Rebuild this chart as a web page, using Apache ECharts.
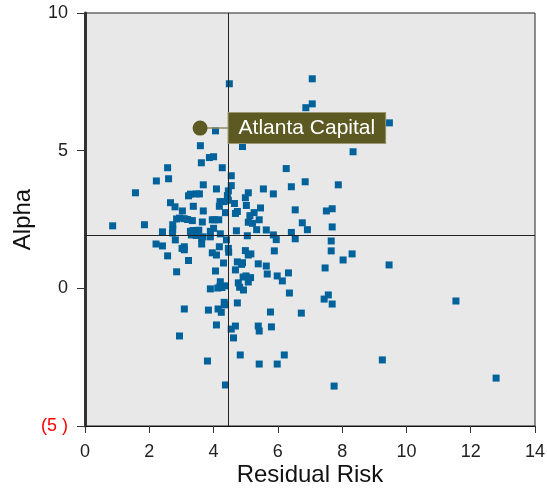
<!DOCTYPE html>
<html>
<head>
<meta charset="utf-8">
<script src="https://cdn.jsdelivr.net/npm/echarts@6/dist/echarts.min.js"></script>
<style>
html,body{margin:0;padding:0;background:#fff;}
#chart{width:547px;height:491px;}
</style>
</head>
<body>
<div id="chart"></div>
<script>
// Residual risk (x) and alpha (y) for each fund
const risk = [
4.49,7.07,7.07,6.87,4.06,3.59,3.87,4.00,4.90,9.47,8.34,
2.57,3.62,4.27,6.26,2.22,2.60,4.55,1.57,3.68,4.09,4.55,5.55,6.42,6.85,5.86,
3.22,3.28,3.46,3.56,4.46,4.43,5.08,4.99,
2.66,2.80,3.37,4.20,4.33,4.46,4.18,4.65,5.02,5.46,
3.03,3.68,4.37,4.68,4.74,5.26,6.54,
2.85,2.94,3.09,3.19,3.34,3.65,3.96,4.03,4.16,5.13,5.08,5.21,5.42,6.76,
0.86,1.85,2.73,2.73,2.41,2.72,
3.28,3.36,3.46,3.54,3.31,3.46,3.37,
3.67,3.90,4.00,3.90,4.21,4.71,5.34,5.64,5.86,5.05,6.42,6.92,5.95,6.54,2.81,3.63,4.40,
2.21,2.41,3.63,3.02,3.09,3.09,4.18,4.46,4.47,2.57,3.96,4.09,4.99,5.08,5.16,5.89,
3.22,4.31,4.74,4.90,4.87,5.39,5.64,2.85,4.06,4.68,5.67,6.33,
4.92,5.01,5.15,5.08,5.98,6.14,4.21,4.20,4.77,4.81,4.93,3.90,4.13,4.26,4.37,6.36,
4.33,4.34,4.74,
7.88,7.51,7.69,7.69,7.66,7.66,8.31,8.03,7.47,9.46,7.57,7.44,7.69,11.54,
3.09,3.84,4.14,4.24,5.77,6.73,4.09,4.55,4.68,5.39,5.42,5.80,2.94,4.62,4.83,6.20,3.81,5.42,5.98,4.37,
9.25,12.79,7.75
];
const alpha = [
7.43,7.61,6.70,6.56,5.72,5.18,4.75,4.78,5.15,6.01,4.96,
4.38,4.56,4.38,4.35,3.90,3.98,4.09,3.47,3.76,3.61,3.73,3.61,3.69,3.87,3.43,
3.36,3.42,3.43,3.43,3.54,3.37,3.47,3.29,
3.11,2.96,2.98,3.15,3.15,3.20,2.98,3.08,3.01,2.92,
2.81,2.81,2.75,2.72,2.79,2.75,2.85,
2.52,2.55,2.53,2.50,2.46,2.41,2.49,2.49,2.49,2.64,2.40,2.36,2.49,2.38,
2.27,2.31,2.31,2.13,2.05,2.01,
2.07,2.10,2.06,2.11,1.94,1.92,1.99,
1.87,2.07,2.18,1.87,1.98,2.09,2.13,2.12,1.94,1.91,2.03,2.13,1.77,1.80,1.76,1.82,1.76,
1.61,1.54,1.61,1.45,1.51,1.40,1.51,1.45,1.31,1.18,1.29,1.21,1.37,1.21,1.25,1.36,
1.01,0.92,0.96,0.93,0.87,0.89,0.81,0.60,0.63,0.67,0.52,0.56,
0.41,0.45,0.39,0.23,0.45,0.27,0.24,0.07,0.20,0.04,-0.06,-0.02,0.01,0.03,0.09,-0.17,
-0.51,-0.60,-0.53,
3.76,2.81,2.89,2.23,1.72,1.36,1.25,1.03,0.74,0.85,-0.24,-0.39,-0.57,-0.46,
-0.75,-0.79,-0.75,-0.87,-0.86,-0.90,-1.33,-1.48,-1.37,-1.37,-1.55,-1.40,-1.73,-1.80,-2.42,-2.42,-2.64,-2.75,-2.75,-3.51,
-2.60,-3.26,-3.55
];
// Highlighted fund
const highlightName = 'Atlanta Capital';
const highlightRisk = 3.58;
const highlightAlpha = 5.82;
// Crosshair (averages)
const avgRisk = 4.46;
const avgAlpha = 1.92;
// Axis ranges / ticks
const xTicks = [0, 14, 2];
const yTicks = [-5, 10, 5];

const points = risk.map((r, i) => [r, alpha[i]]);

const chart = echarts.init(document.getElementById('chart'), null, {renderer: 'canvas'});
const FONT = 'Liberation Sans, Arial, sans-serif';
chart.setOption({
  animation: false,
  grid: {
    left: 85, right: 12, top: 13, bottom: 65,
    containLabel: false, outerBoundsMode: 'none',
    show: true, backgroundColor: '#e8e8e8', borderColor: '#222', borderWidth: 1
  },
  xAxis: {
    type: 'value', min: xTicks[0], max: xTicks[1], interval: xTicks[2],
    name: 'Residual Risk', nameLocation: 'middle', nameGap: 37, nameMoveOverlap: false,
    nameTextStyle: {fontFamily: FONT, fontSize: 24, color: '#111'},
    axisLine: {onZero: false, lineStyle: {color: '#111', width: 1}},
    axisTick: {show: true, inside: false, length: 7, lineStyle: {color: '#333'}},
    axisLabel: {fontFamily: FONT, fontSize: 18, color: '#222', margin: 17},
    splitLine: {show: false}
  },
  yAxis: [{
    type: 'value', min: yTicks[0], max: yTicks[1], interval: yTicks[2],
    name: 'Alpha', nameLocation: 'middle', nameGap: 50, nameRotate: 90, nameMoveOverlap: false,
    nameTextStyle: {fontFamily: FONT, fontSize: 24, color: '#111'},
    axisLine: {onZero: false, lineStyle: {color: '#111', width: 1}},
    axisTick: {show: true, inside: false, length: 8, lineStyle: {color: '#333'}},
    axisLabel: {
      fontFamily: FONT, fontSize: 18, margin: 17,
      color: v => (Number(v) < 0 ? '#ff0000' : '#222'),
      formatter: v => (v < 0 ? '(' + Math.abs(v) + ' )' : String(v))
    },
    splitLine: {show: false}
  }, {
    type: 'value', min: yTicks[0], max: yTicks[1], position: 'right',
    axisLine: {show: true, lineStyle: {color: '#333', width: 3}},
    axisTick: {show: false}, axisLabel: {show: false}, splitLine: {show: false}
  }],
  series: [{
    type: 'scatter',
    data: points,
    symbol: 'rect',
    symbolSize: 7,
    itemStyle: {color: '#00629b', opacity: 1},
    silent: true,
    markLine: {
      silent: true,
      symbol: ['none', 'none'],
      label: {show: false},
      lineStyle: {color: '#222', width: 1, type: 'solid', opacity: 1},
      data: [{xAxis: avgRisk}, {yAxis: avgAlpha}]
    },
    z: 3
  }, {
    type: 'line',
    data: [[highlightRisk, highlightAlpha], [avgRisk, highlightAlpha]],
    symbol: 'none',
    lineStyle: {color: '#8c8a66', width: 1.5, opacity: 1},
    silent: true,
    z: 4
  }, {
    type: 'scatter',
    data: [{name: highlightName, value: [highlightRisk, highlightAlpha]}],
    symbol: 'circle',
    symbolSize: 15,
    itemStyle: {color: '#5c5a22', opacity: 1},
    label: {
      show: true, position: 'right', distance: 21,
      formatter: '{b}',
      fontFamily: FONT, fontSize: 21, color: '#fff',
      backgroundColor: '#5c5a22', borderColor: '#9a9870', borderWidth: 1,
      padding: [4, 10, 4, 10], lineHeight: 22
    },
    silent: true,
    z: 5
  }]
});
</script>
</body>
</html>
